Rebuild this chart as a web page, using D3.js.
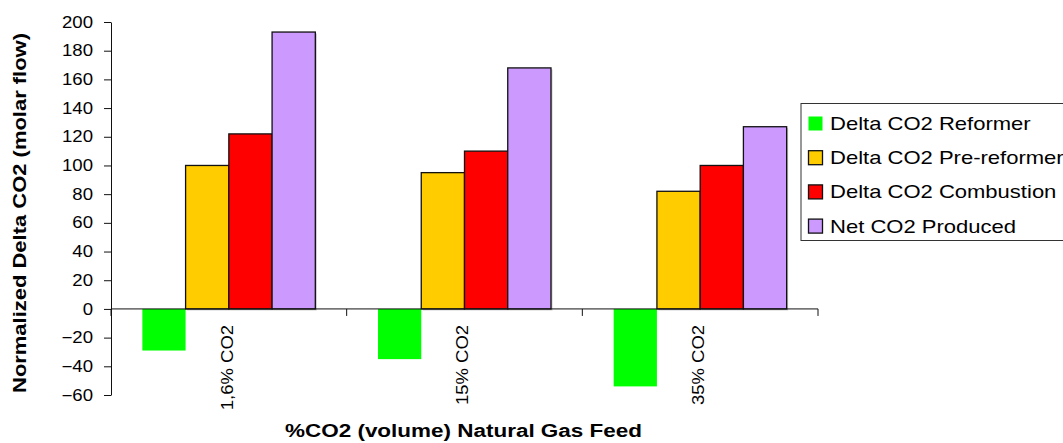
<!DOCTYPE html>
<html>
<head>
<meta charset="utf-8">
<script src="https://cdn.jsdelivr.net/npm/d3@7"></script>
<style>
  body { margin: 0; background: #fff; }
  svg { display: block; font-family: "Liberation Sans", Arial, sans-serif; }
</style>
</head>
<body>
<script>
// Data
const categories = ["1,6% CO2", "15% CO2", "35% CO2"];
const seriesNames = ["Delta CO2 Reformer", "Delta CO2 Pre-reformer", "Delta CO2 Combustion", "Net CO2 Produced"];
const reformer = [-29, -35, -54];
const preReformer = [100, 95, 82];
const combustion = [122, 110, 100];
const netProduced = [193, 168, 127];
const yTicks = [-60, -40, -20, 0, 20, 40, 60, 80, 100, 120, 140, 160, 180, 200];

const colors = ["#00ff00", "#ffcc00", "#ff0000", "#cc99ff"];
const outlined = [false, true, true, true];

const w = 1063, h = 443;
const seriesValues = [reformer, preReformer, combustion, netProduced];
const rows = categories.map((c, i) => ({
  cat: c,
  vals: seriesValues.map((s, k) => ({ k: k, v: s[i] }))
}));

const svg = d3.select("body").append("svg")
  .attr("width", w)
  .attr("height", h);

// stretch text horizontally like the original rendering
function stretch(sel, k) {
  sel.each(function() {
    const len = this.getComputedTextLength();
    d3.select(this).attr("textLength", len * k).attr("lengthAdjust", "spacingAndGlyphs");
  });
}

// Scales
const x0 = d3.scaleBand()
  .domain(categories)
  .range([111, 818])
  .paddingInner(0.266)
  .paddingOuter(0.133);

const x1 = d3.scaleBand()
  .domain(d3.range(4))
  .range([0, x0.bandwidth()]);

const y = d3.scaleLinear()
  .domain([-60, 200])
  .range([395, 22]);

// Bars
const groups = svg.append("g").selectAll("g")
  .data(rows)
  .join("g")
  .attr("transform", d => `translate(${x0(d.cat)},0)`);

// soft shadow behind outlined bars
groups.selectAll("rect.shadow")
  .data(d => d.vals.filter(e => outlined[e.k]))
  .join("rect")
  .attr("class", "shadow")
  .attr("x", e => x1(e.k) + 1.5)
  .attr("y", e => Math.min(y(e.v), y(0)) + 1.5)
  .attr("width", x1.bandwidth())
  .attr("height", e => Math.abs(y(e.v) - y(0)))
  .attr("fill", "#c8c8c8");

groups.selectAll("rect.bar")
  .data(d => d.vals)
  .join("rect")
  .attr("class", "bar")
  .attr("x", e => x1(e.k))
  .attr("y", e => Math.min(y(e.v), y(0)))
  .attr("width", x1.bandwidth())
  .attr("height", e => Math.abs(y(e.v) - y(0)))
  .attr("fill", e => colors[e.k])
  .attr("stroke", e => outlined[e.k] ? "#111" : "none")
  .attr("stroke-width", 1.3);

// Y axis
const yAxis = svg.append("g")
  .attr("transform", "translate(111,0)")
  .call(d3.axisLeft(y).tickValues(yTicks).tickSize(7).tickPadding(11).tickSizeOuter(0));
yAxis.select(".domain").attr("stroke", "#111");
yAxis.selectAll(".tick line").attr("stroke", "#111");
yAxis.selectAll(".tick text")
  .attr("font-size", 16)
  .attr("font-family", "Liberation Sans, Arial, sans-serif")
  .attr("fill", "#000")
  .call(stretch, 1.16);

// X axis on the zero line, labels rotated below
const xAxis = svg.append("g")
  .attr("transform", `translate(0,${y(0)})`);
xAxis.append("line")
  .attr("x1", 111).attr("x2", 818)
  .attr("stroke", "#111");
const bounds = categories.map(c => x0(c) - x0.step() * x0.paddingInner() / 2)
  .concat([818]);
xAxis.selectAll("line.tick")
  .data(bounds)
  .join("line")
  .attr("class", "tick")
  .attr("x1", d => d).attr("x2", d => d)
  .attr("y1", 0).attr("y2", 7)
  .attr("stroke", "#111");
xAxis.selectAll("text")
  .data(categories)
  .join("text")
  .attr("transform", d => `translate(${x0(d) + x0.bandwidth() / 2 - 2},16) rotate(-90)`)
  .attr("text-anchor", "end")
  .attr("dy", "0.35em")
  .attr("font-size", 16.5)
  .text(d => d)
  .call(stretch, 1.12);

// Axis titles
svg.append("text")
  .attr("transform", "translate(26,213) rotate(-90)")
  .attr("text-anchor", "middle")
  .attr("font-size", 18.5)
  .attr("font-weight", "bold")
  .attr("textLength", 360)
  .attr("lengthAdjust", "spacingAndGlyphs")
  .text("Normalized Delta CO2 (molar flow)");

svg.append("text")
  .attr("x", 463.5)
  .attr("y", 437)
  .attr("text-anchor", "middle")
  .attr("font-size", 18)
  .attr("font-weight", "bold")
  .attr("textLength", 357)
  .attr("lengthAdjust", "spacingAndGlyphs")
  .text("%CO2 (volume) Natural Gas Feed");

// Legend
const legend = svg.append("g").attr("transform", "translate(801,103.5)");
legend.append("rect")
  .attr("x", 0).attr("y", 0)
  .attr("width", 300).attr("height", 137)
  .attr("fill", "#fff")
  .attr("stroke", "#333");

const items = legend.selectAll("g.item")
  .data(seriesNames)
  .join("g")
  .attr("class", "item")
  .attr("transform", (d, i) => `translate(0,${20 + i * 34.2})`);

items.append("rect")
  .attr("x", 7.5)
  .attr("y", -7)
  .attr("width", 14)
  .attr("height", 14)
  .attr("fill", (d, i) => colors[i])
  .attr("stroke", (d, i) => outlined[i] ? "#111" : "none")
  .attr("stroke-width", 1.3);

items.append("text")
  .attr("x", 29)
  .attr("y", 6.5)
  .attr("font-size", 18.5)
  .text(d => d)
  .call(stretch, 1.19);
</script>
</body>
</html>
